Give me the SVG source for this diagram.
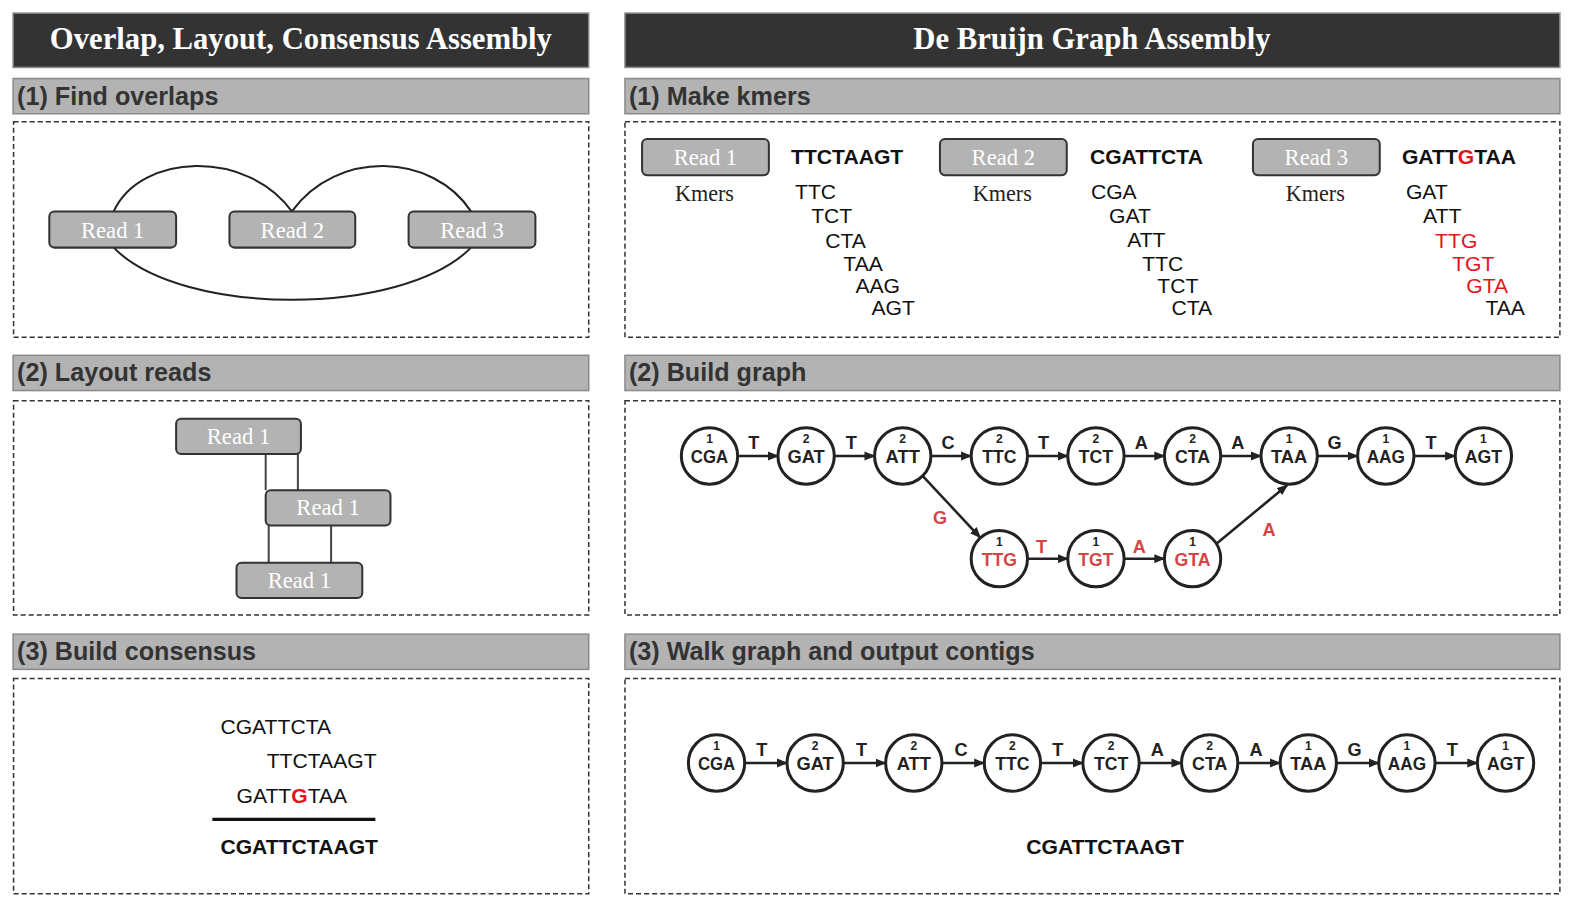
<svg xmlns="http://www.w3.org/2000/svg" width="1578" height="914" viewBox="0 0 1578 914">
<defs>
<style>
.title{font-family:"Liberation Serif",serif;font-weight:bold;font-size:30.5px;fill:#fff;text-anchor:middle}
.tbar{fill:#333;stroke:#8a8a8a;stroke-width:1.5}
.hband{fill:#b3b3b3;stroke:#8a8a8a;stroke-width:1.5}
.hdr{font-family:"Liberation Sans",Arial,sans-serif;font-weight:bold;font-size:25px;fill:#333}
.dash{fill:none;stroke:#333;stroke-width:1.5;stroke-dasharray:5 3}
.rbox{fill:#b3b3b3;stroke:#333;stroke-width:2}
.rtxt{font-family:"Liberation Serif",serif;font-size:22.5px;fill:#fff;text-anchor:middle}
.kmers{font-family:"Liberation Serif",serif;font-size:22px;fill:#222;text-anchor:middle}
.seq{font-family:"Liberation Sans",Arial,sans-serif;font-size:21px;fill:#111}
.b{font-weight:bold}
.red{fill:#e3141b}
.arc{fill:none;stroke:#222;stroke-width:2}
.vl{fill:none;stroke:#444;stroke-width:2}
.nd circle{fill:#fff;stroke:#222;stroke-width:3}
.num{font-family:"Liberation Sans",Arial,sans-serif;font-weight:bold;font-size:12px;fill:#222;text-anchor:middle}
.km{font-family:"Liberation Sans",Arial,sans-serif;font-weight:bold;font-size:18px;fill:#222;text-anchor:middle}
.el{font-family:"Liberation Sans",Arial,sans-serif;font-weight:bold;font-size:18px;fill:#222;text-anchor:middle}
.edge{fill:none;stroke:#222;stroke-width:2.5}
.el.gred,.km.gred{fill:#d64545}
</style>
<marker id="ah" markerUnits="userSpaceOnUse" markerWidth="11" markerHeight="9" refX="10" refY="4.5" orient="auto">
<path d="M0,0 L11,4.5 L0,9 z" fill="#222"/>
</marker>
</defs>
<rect width="1578" height="914" fill="#fff"/>
<g transform="scale(1.00638,1.00661)">

<!-- Title bars -->
<g id="title-left">
<rect class="tbar" x="13" y="13" width="572" height="54"/>
<text class="title" x="299" y="49">Overlap, Layout, Consensus Assembly</text>
</g>
<g id="title-right">
<rect class="tbar" x="621" y="13" width="929" height="54"/>
<text class="title" x="1085" y="49">De Bruijn Graph Assembly</text>
</g>

<!-- Section headers -->
<g id="hdr-l1"><rect class="hband" x="13" y="78" width="572" height="35"/><text class="hdr" x="17" y="104">(1) Find overlaps</text></g>
<g id="hdr-l2"><rect class="hband" x="13" y="353" width="572" height="35"/><text class="hdr" x="17" y="379">(2) Layout reads</text></g>
<g id="hdr-l3"><rect class="hband" x="13" y="630" width="572" height="35"/><text class="hdr" x="17" y="656">(3) Build consensus</text></g>
<g id="hdr-r1"><rect class="hband" x="621" y="78" width="929" height="35"/><text class="hdr" x="625" y="104">(1) Make kmers</text></g>
<g id="hdr-r2"><rect class="hband" x="621" y="353" width="929" height="35"/><text class="hdr" x="625" y="379">(2) Build graph</text></g>
<g id="hdr-r3"><rect class="hband" x="621" y="630" width="929" height="35"/><text class="hdr" x="625" y="656">(3) Walk graph and output contigs</text></g>

<!-- Dashed panels -->
<g id="panels">
<rect class="dash" x="13.5" y="121" width="571.5" height="214"/>
<rect class="dash" x="13.5" y="398" width="571.5" height="213"/>
<rect class="dash" x="13.5" y="674" width="571.5" height="214"/>
<rect class="dash" x="621" y="121" width="929" height="214"/>
<rect class="dash" x="621" y="398" width="929" height="213"/>
<rect class="dash" x="621" y="674" width="929" height="214"/>
</g>

<!-- Panel L1: find overlaps -->
<g id="overlap-connectors">
<path class="arc" d="M113,210 C140,152 245,148 290,210"/>
<path class="arc" d="M290,210 C335,148 430,152 468,210"/>
<path class="arc" d="M113,246 C180,315 400,315 468,246"/>
</g>
<g id="ov-read1"><rect class="rbox" x="49" y="210" width="126" height="36" rx="5"/><text class="rtxt" x="112" y="236">Read 1</text></g>
<g id="ov-read2"><rect class="rbox" x="228" y="210" width="125" height="36" rx="5"/><text class="rtxt" x="290.5" y="236">Read 2</text></g>
<g id="ov-read3"><rect class="rbox" x="406" y="210" width="126" height="36" rx="5"/><text class="rtxt" x="469" y="236">Read 3</text></g>

<!-- Panel L2: layout -->
<g id="layout-connectors">
<line class="vl" x1="264" y1="451" x2="264" y2="487"/>
<line class="vl" x1="296" y1="451" x2="296" y2="487"/>
<line class="vl" x1="267" y1="522" x2="267" y2="559"/>
<line class="vl" x1="329" y1="522" x2="329" y2="559"/>
</g>
<g id="lay-read-a"><rect class="rbox" x="175" y="416" width="124" height="35" rx="5"/><text class="rtxt" x="237" y="441">Read 1</text></g>
<g id="lay-read-b"><rect class="rbox" x="264" y="487" width="124" height="35" rx="5"/><text class="rtxt" x="326" y="512">Read 1</text></g>
<g id="lay-read-c"><rect class="rbox" x="235" y="559" width="125" height="35" rx="5"/><text class="rtxt" x="297.5" y="584">Read 1</text></g>

<!-- Panel L3: consensus -->
<g id="consensus">
<text class="seq" x="219" y="729">CGATTCTA</text>
<text class="seq" x="265" y="763">TTCTAAGT</text>
<text class="seq" x="235" y="798">GATT<tspan class="b red">G</tspan>TAA</text>
<line x1="211" y1="814" x2="373" y2="814" stroke="#111" stroke-width="3"/>
<text class="seq b" x="219" y="848">CGATTCTAAGT</text>
</g>

<!-- Panel R1: kmers -->
<g id="km-read1">
<rect class="rbox" x="638" y="138" width="126" height="36" rx="5"/><text class="rtxt" x="701" y="164">Read 1</text>
<text class="seq b" x="786" y="163">TTCTAAGT</text>
<text class="kmers" x="700" y="200">Kmers</text>
<text class="seq" x="790" y="198">TTC</text>
<text class="seq" x="806" y="222">TCT</text>
<text class="seq" x="820" y="246">CTA</text>
<text class="seq" x="838" y="269">TAA</text>
<text class="seq" x="850" y="291">AAG</text>
<text class="seq" x="866" y="313">AGT</text>
</g>
<g id="km-read2">
<rect class="rbox" x="934" y="138" width="126" height="36" rx="5"/><text class="rtxt" x="997" y="164">Read 2</text>
<text class="seq b" x="1083" y="163">CGATTCTA</text>
<text class="kmers" x="996" y="200">Kmers</text>
<text class="seq" x="1084" y="198">CGA</text>
<text class="seq" x="1102" y="222">GAT</text>
<text class="seq" x="1120" y="245">ATT</text>
<text class="seq" x="1135" y="269">TTC</text>
<text class="seq" x="1150" y="291">TCT</text>
<text class="seq" x="1164" y="313">CTA</text>
</g>
<g id="km-read3">
<rect class="rbox" x="1245" y="138" width="126" height="36" rx="5"/><text class="rtxt" x="1308" y="164">Read 3</text>
<text class="seq b" x="1393" y="163">GATT<tspan class="red">G</tspan>TAA</text>
<text class="kmers" x="1307" y="200">Kmers</text>
<text class="seq" x="1397" y="198">GAT</text>
<text class="seq" x="1414" y="222">ATT</text>
<text class="seq red" x="1426" y="246">TTG</text>
<text class="seq red" x="1443" y="269">TGT</text>
<text class="seq red" x="1457" y="291">GTA</text>
<text class="seq" x="1476" y="313">TAA</text>
</g>

<!-- Panel R2: graph connectors -->
<g id="graph-connectors">
<line class="edge" x1="733" y1="453" x2="773" y2="453" marker-end="url(#ah)"/>
<line class="edge" x1="829" y1="453" x2="869" y2="453" marker-end="url(#ah)"/>
<line class="edge" x1="925" y1="453" x2="965" y2="453" marker-end="url(#ah)"/>
<line class="edge" x1="1021" y1="453" x2="1061" y2="453" marker-end="url(#ah)"/>
<line class="edge" x1="1117" y1="453" x2="1157" y2="453" marker-end="url(#ah)"/>
<line class="edge" x1="1213" y1="453" x2="1253" y2="453" marker-end="url(#ah)"/>
<line class="edge" x1="1309" y1="453" x2="1349" y2="453" marker-end="url(#ah)"/>
<line class="edge" x1="1405" y1="453" x2="1446" y2="453" marker-end="url(#ah)"/>
<line class="edge" x1="917" y1="473" x2="974" y2="534" marker-end="url(#ah)"/>
<line class="edge" x1="1021" y1="555" x2="1061" y2="555" marker-end="url(#ah)"/>
<line class="edge" x1="1117" y1="555" x2="1157" y2="555" marker-end="url(#ah)"/>
<line class="edge" x1="1209" y1="540" x2="1279" y2="482" marker-end="url(#ah)"/>
<text class="el" x="749" y="446">T</text>
<text class="el" x="846" y="446">T</text>
<text class="el" x="942" y="446">C</text>
<text class="el" x="1037" y="446">T</text>
<text class="el" x="1134" y="446">A</text>
<text class="el" x="1230" y="446">A</text>
<text class="el" x="1326" y="446">G</text>
<text class="el" x="1422" y="446">T</text>
<text class="el gred" x="934" y="521">G</text>
<text class="el gred" x="1035" y="549">T</text>
<text class="el gred" x="1132" y="549">A</text>
<text class="el gred" x="1261" y="532">A</text>
</g>

<g id="g2-CGA" class="nd"><circle cx="705" cy="453" r="28"/><text class="num" x="705" y="440">1</text><text class="km" x="705" y="460" textLength="37" lengthAdjust="spacingAndGlyphs">CGA</text></g>
<g id="g2-GAT" class="nd"><circle cx="801" cy="453" r="28"/><text class="num" x="801" y="440">2</text><text class="km" x="801" y="460" textLength="37" lengthAdjust="spacingAndGlyphs">GAT</text></g>
<g id="g2-ATT" class="nd"><circle cx="897" cy="453" r="28"/><text class="num" x="897" y="440">2</text><text class="km" x="897" y="460" textLength="34" lengthAdjust="spacingAndGlyphs">ATT</text></g>
<g id="g2-TTC" class="nd"><circle cx="993" cy="453" r="28"/><text class="num" x="993" y="440">2</text><text class="km" x="993" y="460" textLength="34" lengthAdjust="spacingAndGlyphs">TTC</text></g>
<g id="g2-TCT" class="nd"><circle cx="1089" cy="453" r="28"/><text class="num" x="1089" y="440">2</text><text class="km" x="1089" y="460" textLength="34" lengthAdjust="spacingAndGlyphs">TCT</text></g>
<g id="g2-CTA" class="nd"><circle cx="1185" cy="453" r="28"/><text class="num" x="1185" y="440">2</text><text class="km" x="1185" y="460" textLength="35" lengthAdjust="spacingAndGlyphs">CTA</text></g>
<g id="g2-TAA" class="nd"><circle cx="1281" cy="453" r="28"/><text class="num" x="1281" y="440">1</text><text class="km" x="1281" y="460" textLength="36" lengthAdjust="spacingAndGlyphs">TAA</text></g>
<g id="g2-AAG" class="nd"><circle cx="1377" cy="453" r="28"/><text class="num" x="1377" y="440">1</text><text class="km" x="1377" y="460" textLength="38" lengthAdjust="spacingAndGlyphs">AAG</text></g>
<g id="g2-AGT" class="nd"><circle cx="1474" cy="453" r="28"/><text class="num" x="1474" y="440">1</text><text class="km" x="1474" y="460" textLength="37" lengthAdjust="spacingAndGlyphs">AGT</text></g>
<g id="g2-TTG" class="nd"><circle cx="993" cy="555" r="28"/><text class="num" x="993" y="542">1</text><text class="km gred" x="993" y="562" textLength="35" lengthAdjust="spacingAndGlyphs">TTG</text></g>
<g id="g2-TGT" class="nd"><circle cx="1089" cy="555" r="28"/><text class="num" x="1089" y="542">1</text><text class="km gred" x="1089" y="562" textLength="35" lengthAdjust="spacingAndGlyphs">TGT</text></g>
<g id="g2-GTA" class="nd"><circle cx="1185" cy="555" r="28"/><text class="num" x="1185" y="542">1</text><text class="km gred" x="1185" y="562" textLength="36" lengthAdjust="spacingAndGlyphs">GTA</text></g>

<!-- Panel R3: walk -->
<g id="walk-connectors">
<line class="edge" x1="740" y1="758" x2="782" y2="758" marker-end="url(#ah)"/>
<line class="edge" x1="838" y1="758" x2="880" y2="758" marker-end="url(#ah)"/>
<line class="edge" x1="936" y1="758" x2="978" y2="758" marker-end="url(#ah)"/>
<line class="edge" x1="1034" y1="758" x2="1076" y2="758" marker-end="url(#ah)"/>
<line class="edge" x1="1132" y1="758" x2="1174" y2="758" marker-end="url(#ah)"/>
<line class="edge" x1="1230" y1="758" x2="1272" y2="758" marker-end="url(#ah)"/>
<line class="edge" x1="1328" y1="758" x2="1370" y2="758" marker-end="url(#ah)"/>
<line class="edge" x1="1426" y1="758" x2="1468" y2="758" marker-end="url(#ah)"/>
<text class="el" x="757" y="751">T</text>
<text class="el" x="856" y="751">T</text>
<text class="el" x="955" y="751">C</text>
<text class="el" x="1051" y="751">T</text>
<text class="el" x="1150" y="751">A</text>
<text class="el" x="1248" y="751">A</text>
<text class="el" x="1346" y="751">G</text>
<text class="el" x="1443" y="751">T</text>
</g>
<g id="g3-CGA" class="nd"><circle cx="712" cy="758" r="28"/><text class="num" x="712" y="745">1</text><text class="km" x="712" y="765" textLength="37" lengthAdjust="spacingAndGlyphs">CGA</text></g>
<g id="g3-GAT" class="nd"><circle cx="810" cy="758" r="28"/><text class="num" x="810" y="745">2</text><text class="km" x="810" y="765" textLength="37" lengthAdjust="spacingAndGlyphs">GAT</text></g>
<g id="g3-ATT" class="nd"><circle cx="908" cy="758" r="28"/><text class="num" x="908" y="745">2</text><text class="km" x="908" y="765" textLength="34" lengthAdjust="spacingAndGlyphs">ATT</text></g>
<g id="g3-TTC" class="nd"><circle cx="1006" cy="758" r="28"/><text class="num" x="1006" y="745">2</text><text class="km" x="1006" y="765" textLength="34" lengthAdjust="spacingAndGlyphs">TTC</text></g>
<g id="g3-TCT" class="nd"><circle cx="1104" cy="758" r="28"/><text class="num" x="1104" y="745">2</text><text class="km" x="1104" y="765" textLength="34" lengthAdjust="spacingAndGlyphs">TCT</text></g>
<g id="g3-CTA" class="nd"><circle cx="1202" cy="758" r="28"/><text class="num" x="1202" y="745">2</text><text class="km" x="1202" y="765" textLength="35" lengthAdjust="spacingAndGlyphs">CTA</text></g>
<g id="g3-TAA" class="nd"><circle cx="1300" cy="758" r="28"/><text class="num" x="1300" y="745">1</text><text class="km" x="1300" y="765" textLength="36" lengthAdjust="spacingAndGlyphs">TAA</text></g>
<g id="g3-AAG" class="nd"><circle cx="1398" cy="758" r="28"/><text class="num" x="1398" y="745">1</text><text class="km" x="1398" y="765" textLength="38" lengthAdjust="spacingAndGlyphs">AAG</text></g>
<g id="g3-AGT" class="nd"><circle cx="1496" cy="758" r="28"/><text class="num" x="1496" y="745">1</text><text class="km" x="1496" y="765" textLength="37" lengthAdjust="spacingAndGlyphs">AGT</text></g>
<g id="contig"><text class="seq b" x="1098" y="848" text-anchor="middle">CGATTCTAAGT</text></g>

</g>
</svg>
